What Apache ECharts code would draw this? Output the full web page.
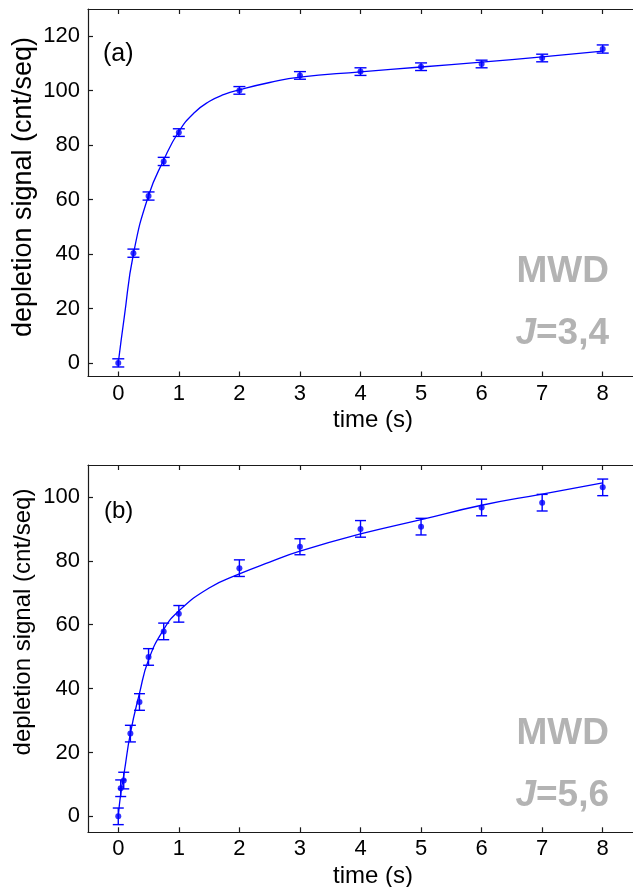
<!DOCTYPE html>
<html>
<head>
<meta charset="utf-8">
<script src="https://cdn.jsdelivr.net/npm/echarts@6/dist/echarts.min.js"></script>
<style>html,body{margin:0;padding:0;background:#fff}#c{width:633px;height:887px}</style>
</head>
<body>
<div id="c"></div>
<script>
// ---- data ----
var xTicks = [0, 1, 2, 3, 4, 5, 6, 7, 8];
var yTicksA = [0, 20, 40, 60, 80, 100, 120];
var yTicksB = [0, 20, 40, 60, 80, 100];

// panel (a)  J=3,4
var timeA   = [0, 0.25, 0.5, 0.75, 1, 2, 3, 4, 5, 6, 7, 8];
var signalA = [0.0, 40.3, 61.3, 74.0, 84.6, 100.1, 105.6, 107.0, 108.8, 109.8, 112.0, 115.3];
var errA    = [1.5, 1.5, 1.5, 1.5, 1.4, 1.4, 1.4, 1.4, 1.4, 1.4, 1.4, 1.5];
var fitTimeA = [0, 0.1, 0.25, 0.5, 0.75, 1, 1.25, 1.5, 1.75, 2, 2.5, 3, 4, 5, 6, 7, 8];
var fitA     = [0, 17.0, 40.0, 61.5, 74.5, 85.0, 91.8, 96.0, 98.6, 100.3, 103.0, 105.0, 106.9, 108.7, 110.5, 112.4, 114.5];

// panel (b)  J=5,6
var timeB   = [0, 0.04, 0.09, 0.2, 0.35, 0.5, 0.75, 1, 2, 3, 4, 5, 6, 7, 8];
var signalB = [0.0, 8.8, 11.2, 25.9, 35.8, 49.9, 57.9, 63.4, 77.7, 84.4, 90.0, 90.7, 96.7, 98.2, 103.0];
var errB    = [2.6, 2.6, 2.6, 2.6, 2.6, 2.6, 2.6, 2.6, 2.6, 2.5, 2.6, 2.6, 2.6, 2.6, 2.6];
var fitTimeB = [0, 0.04, 0.1, 0.2, 0.35, 0.5, 0.75, 1, 1.5, 2, 2.5, 3, 4, 5, 6, 7, 8];
var fitB     = [0, 7.0, 14.0, 26.0, 38.5, 49.0, 58.5, 64.3, 71.5, 75.9, 79.6, 83.0, 88.4, 92.9, 97.4, 100.9, 104.4];

var BLUE = '#0000ff';
var FONT = '"Liberation Sans", Arial, Helvetica, sans-serif';
var AXC = '#1a1a1a';

function zip(xs, ys) { return xs.map(function (x, i) { return [x, ys[i]]; }); }
function zip3(xs, ys, es) { return xs.map(function (x, i) { return [x, ys[i], es[i]]; }); }

function errRender(capHalf) {
  return function (params, api) {
    var x = api.value(0), y = api.value(1), e = api.value(2);
    var lo = api.coord([x, y - e]);
    var hi = api.coord([x, y + e]);
    var st = { stroke: BLUE, lineWidth: 1.4 };
    return {
      type: 'group',
      children: [
        { type: 'line', shape: { x1: lo[0], y1: lo[1], x2: hi[0], y2: hi[1] }, style: st },
        { type: 'line', shape: { x1: lo[0] - capHalf, y1: lo[1], x2: lo[0] + capHalf, y2: lo[1] }, style: st },
        { type: 'line', shape: { x1: hi[0] - capHalf, y1: hi[1], x2: hi[0] + capHalf, y2: hi[1] }, style: st }
      ]
    };
  };
}

function xAxisDef(grid, pos, labels) {
  return {
    type: 'value', gridIndex: grid, position: pos, min: -0.5, max: 8.5,
    axisLine: { show: true, onZero: false, lineStyle: { color: AXC, width: 1.2 } },
    axisTick: { show: true, inside: true, length: 5, customValues: xTicks, lineStyle: { color: AXC, width: 1.2 } },
    axisLabel: { show: labels, customValues: xTicks, fontSize: 22, color: '#000', fontFamily: FONT, margin: 6 },
    splitLine: { show: false }
  };
}
function yAxisDef(grid, min, max, ticks) {
  return {
    type: 'value', gridIndex: grid, min: min, max: max,
    axisLine: { show: true, onZero: false, lineStyle: { color: AXC, width: 1.2 } },
    axisTick: { show: true, inside: true, length: 5, customValues: ticks, lineStyle: { color: AXC, width: 1.2 } },
    axisLabel: { show: true, customValues: ticks, fontSize: 22, color: '#000', fontFamily: FONT, margin: 8 },
    splitLine: { show: false }
  };
}

var chart = echarts.init(document.getElementById('c'), null, { renderer: 'canvas' });
var gray = '#b3b3b3';
chart.setOption({
  animation: false,
  backgroundColor: '#fff',
  grid: [
    { left: 88, right: -7, top: 9, height: 367.5 },
    { left: 88, right: -7, top: 465, height: 367.3 }
  ],
  xAxis: [
    xAxisDef(0, 'bottom', true),
    xAxisDef(0, 'top', false),
    xAxisDef(1, 'bottom', true),
    xAxisDef(1, 'top', false)
  ],
  yAxis: [
    yAxisDef(0, -5, 130, yTicksA),
    yAxisDef(1, -5, 110, yTicksB)
  ],
  series: [
    { type: 'line', xAxisIndex: 0, yAxisIndex: 0, data: zip(fitTimeA, fitA), smooth: 0.5, showSymbol: false,
      lineStyle: { color: BLUE, width: 1.3 }, z: 2 },
    { type: 'custom', xAxisIndex: 0, yAxisIndex: 0, data: zip3(timeA, signalA, errA), renderItem: errRender(6), z: 3 },
    { type: 'scatter', xAxisIndex: 0, yAxisIndex: 0, data: zip(timeA, signalA), symbol: 'circle', symbolSize: 6,
      itemStyle: { color: BLUE }, z: 4 },
    { type: 'line', xAxisIndex: 2, yAxisIndex: 1, data: zip(fitTimeB, fitB), smooth: 0.5, showSymbol: false,
      lineStyle: { color: BLUE, width: 1.3 }, z: 2 },
    { type: 'custom', xAxisIndex: 2, yAxisIndex: 1, data: zip3(timeB, signalB, errB), renderItem: errRender(5.5), z: 3 },
    { type: 'scatter', xAxisIndex: 2, yAxisIndex: 1, data: zip(timeB, signalB), symbol: 'circle', symbolSize: 6,
      itemStyle: { color: BLUE }, z: 4 }
  ],
  graphic: [
    { type: 'text', x: 24, y: 187, rotation: Math.PI / 2,
      style: { text: 'depletion signal (cnt/seq)', font: '27px ' + FONT, fill: '#000', align: 'center', verticalAlign: 'middle' } },
    { type: 'text', x: 23, y: 622, rotation: Math.PI / 2,
      style: { text: 'depletion signal (cnt/seq)', font: '24px ' + FONT, fill: '#000', align: 'center', verticalAlign: 'middle' } },
    { type: 'text', x: 373, y: 420,
      style: { text: 'time (s)', font: '24px ' + FONT, fill: '#000', align: 'center', verticalAlign: 'middle' } },
    { type: 'text', x: 373, y: 876,
      style: { text: 'time (s)', font: '24px ' + FONT, fill: '#000', align: 'center', verticalAlign: 'middle' } },
    { type: 'text', x: 103, y: 54,
      style: { text: '(a)', font: '25px ' + FONT, fill: '#000', align: 'left', verticalAlign: 'middle' } },
    { type: 'text', x: 104, y: 511,
      style: { text: '(b)', font: '24px ' + FONT, fill: '#000', align: 'left', verticalAlign: 'middle' } },
    { type: 'text', x: 609, y: 272,
      style: { text: 'MWD', font: 'bold 37px ' + FONT, fill: gray, align: 'right', verticalAlign: 'middle' } },
    { type: 'text', x: 609, y: 734,
      style: { text: 'MWD', font: 'bold 37px ' + FONT, fill: gray, align: 'right', verticalAlign: 'middle' } },
    { type: 'text', x: 609, y: 334,
      style: { text: '{j|J}{n|=3,4}', align: 'right', verticalAlign: 'middle',
        rich: { j: { font: 'italic bold 37px ' + FONT, fill: gray }, n: { font: 'bold 37px ' + FONT, fill: gray } } } },
    { type: 'text', x: 609, y: 796,
      style: { text: '{j|J}{n|=5,6}', align: 'right', verticalAlign: 'middle',
        rich: { j: { font: 'italic bold 37px ' + FONT, fill: gray }, n: { font: 'bold 37px ' + FONT, fill: gray } } } }
  ]
});
</script>
</body>
</html>
